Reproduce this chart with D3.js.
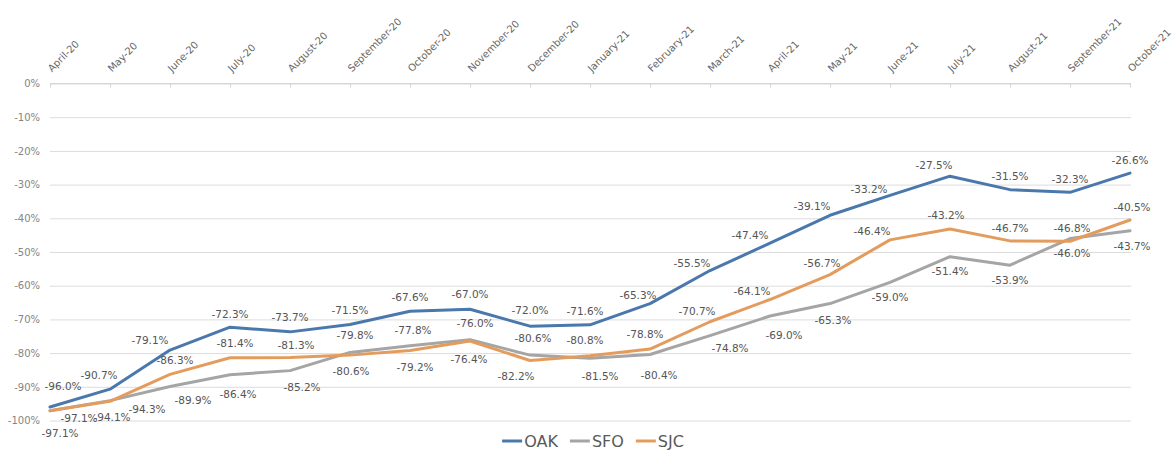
<!DOCTYPE html>
<html>
<head>
<meta charset="utf-8">
<script src="https://cdn.jsdelivr.net/npm/d3@7"></script>
<style>
  html, body { margin: 0; padding: 0; background: #ffffff; }
  svg { display: block; }
</style>
</head>
<body>
<svg id="chart" width="1176" height="451"></svg>
<script>
// ---------------- DATA ----------------
const months = ["April-20","May-20","June-20","July-20","August-20","September-20","October-20",
  "November-20","December-20","January-21","February-21","March-21","April-21","May-21",
  "June-21","July-21","August-21","September-21","October-21"];
const seriesNames = ["OAK","SFO","SJC"];
const oakValues = [-96.0,-90.7,-79.1,-72.3,-73.7,-71.5,-67.6,-67.0,-72.0,-71.6,-65.3,-55.5,-47.4,-39.1,-33.2,-27.5,-31.5,-32.3,-26.6];
const sfoValues = [-97.1,-94.1,-89.9,-86.4,-85.2,-79.8,-77.8,-76.0,-80.6,-81.5,-80.4,-74.8,-69.0,-65.3,-59.0,-51.4,-53.9,-46.0,-43.7];
const sjcValues = [-97.1,-94.3,-86.3,-81.4,-81.3,-80.6,-79.2,-76.4,-82.2,-80.8,-78.8,-70.7,-64.1,-56.7,-46.4,-43.2,-46.7,-46.8,-40.5];
const yTicks = [0,-10,-20,-30,-40,-50,-60,-70,-80,-90,-100];

// ---------------- STYLE ----------------
const colors = { OAK: "#4a78ad", SFO: "#a5a5a5", SJC: "#e39c5d" };
// data-label nudges [dx, dy] relative to each point (label centre)
const labelOffsets = {
  OAK: [[13,-21],[-11,-14],[-20,-10],[0,-13],[0,-15],[0,-14],[0,-14],[0,-15],[0,-16],[-5,-14],
        [-12,-8],[-18,-7],[-20,-8],[-18,-9],[-21,-6],[-16,-11],[0,-13],[0,-13],[0,-13]],
  SFO: [[10,22],[2,17],[23,14],[8,20],[12,17],[5,-17],[3,-15],[5,-16],[3,-17],[10,18],
        [9,21],[20,13],[14,19],[3,17],[0,15],[0,15],[0,15],[2,15],[2,15]],
  SJC: [[29,7],[37,8],[5,-14],[5,-15],[6,-12],[1,16],[5,17],[-1,18],[-14,16],[-5,-16],
        [-5,-15],[-13,-11],[-18,-8],[-8,-11],[-18,-9],[-4,-14],[0,-13],[2,-13],[2,-13]]
};
const FONT = "'DejaVu Sans', 'Liberation Sans', sans-serif";

const series = [
  { name: "OAK", values: oakValues },
  { name: "SFO", values: sfoValues },
  { name: "SJC", values: sjcValues }
];

const svg = d3.select("#chart");
const plotLeft = 50, plotRight = 1131, plotTop = 83.5, plotBottom = 420.5;

const x = d3.scalePoint().domain(months).range([plotLeft, plotRight - 1]);
const y = d3.scaleLinear().domain([-100, 0]).range([plotBottom, plotTop]);

// gridlines + y labels
const yAxis = d3.axisLeft(y).tickValues(yTicks).tickSize(-(plotRight - plotLeft)).tickPadding(10)
  .tickFormat(d => `${d}%`);
const gy = svg.append("g").attr("transform", `translate(${plotLeft},0)`).call(yAxis);
gy.select(".domain").remove();
gy.selectAll(".tick line").attr("stroke", "#dcdcdc").attr("stroke-width", 1);
gy.selectAll(".tick text").attr("fill", "#858585").attr("font-family", FONT).attr("font-size", 10)
  .attr("x", -10);

// top category axis with small tick marks pointing down
const xAxis = d3.axisBottom(x).tickSize(4).tickFormat("");
const gx = svg.append("g").attr("transform", `translate(0,${plotTop})`).call(xAxis);
gx.select(".domain").attr("stroke", "#d6d6d6").attr("d", `M${plotLeft},0H${plotRight}`);
gx.selectAll(".tick line").attr("stroke", "#d6d6d6");

// rotated month labels
svg.append("g").selectAll("text").data(months).join("text")
  .attr("transform", d => `translate(${x(d) + 2},${plotTop - 11}) rotate(-45)`)
  .attr("text-anchor", "start")
  .attr("font-family", FONT).attr("font-size", 10)
  .attr("fill", "#666666")
  .text(d => d);

// lines
const line = d3.line().x((d, i) => x(months[i])).y(d => y(d));
svg.append("g").selectAll("path").data(series).join("path")
  .attr("d", s => line(s.values))
  .attr("fill", "none")
  .attr("stroke", s => colors[s.name])
  .attr("stroke-width", 3)
  .attr("stroke-linejoin", "round")
  .attr("stroke-linecap", "round");

// data labels
const lg = svg.append("g");
series.forEach(s => {
  lg.append("g").selectAll("text").data(s.values).join("text")
    .attr("x", (d, i) => x(months[i]) + labelOffsets[s.name][i][0])
    .attr("y", (d, i) => y(d) + labelOffsets[s.name][i][1])
    .attr("dy", "0.36em")
    .attr("text-anchor", "middle")
    .attr("font-family", FONT).attr("font-size", 10.5)
    .attr("fill", "#555555")
    .text(d => `${d.toFixed(1)}%`);
});

// legend
const legend = svg.append("g").attr("transform", "translate(0,441)");
const items = [];
seriesNames.forEach(n => {
  const g = legend.append("g");
  g.append("line").attr("x1", 0).attr("x2", 20).attr("y1", 0).attr("y2", 0)
    .attr("stroke", colors[n]).attr("stroke-width", 3);
  const t = g.append("text").attr("x", 22).attr("dy", "0.36em")
    .attr("font-family", FONT).attr("font-size", 16).attr("fill", "#595959").text(n);
  const w = 22 + t.node().getComputedTextLength();
  items.push({ g, w });
});
const gap = 12;
const total = d3.sum(items, d => d.w) + gap * (items.length - 1);
let cx = 593 - total / 2;
items.forEach(it => { it.g.attr("transform", `translate(${cx},0)`); cx += it.w + gap; });
</script>
</body>
</html>
